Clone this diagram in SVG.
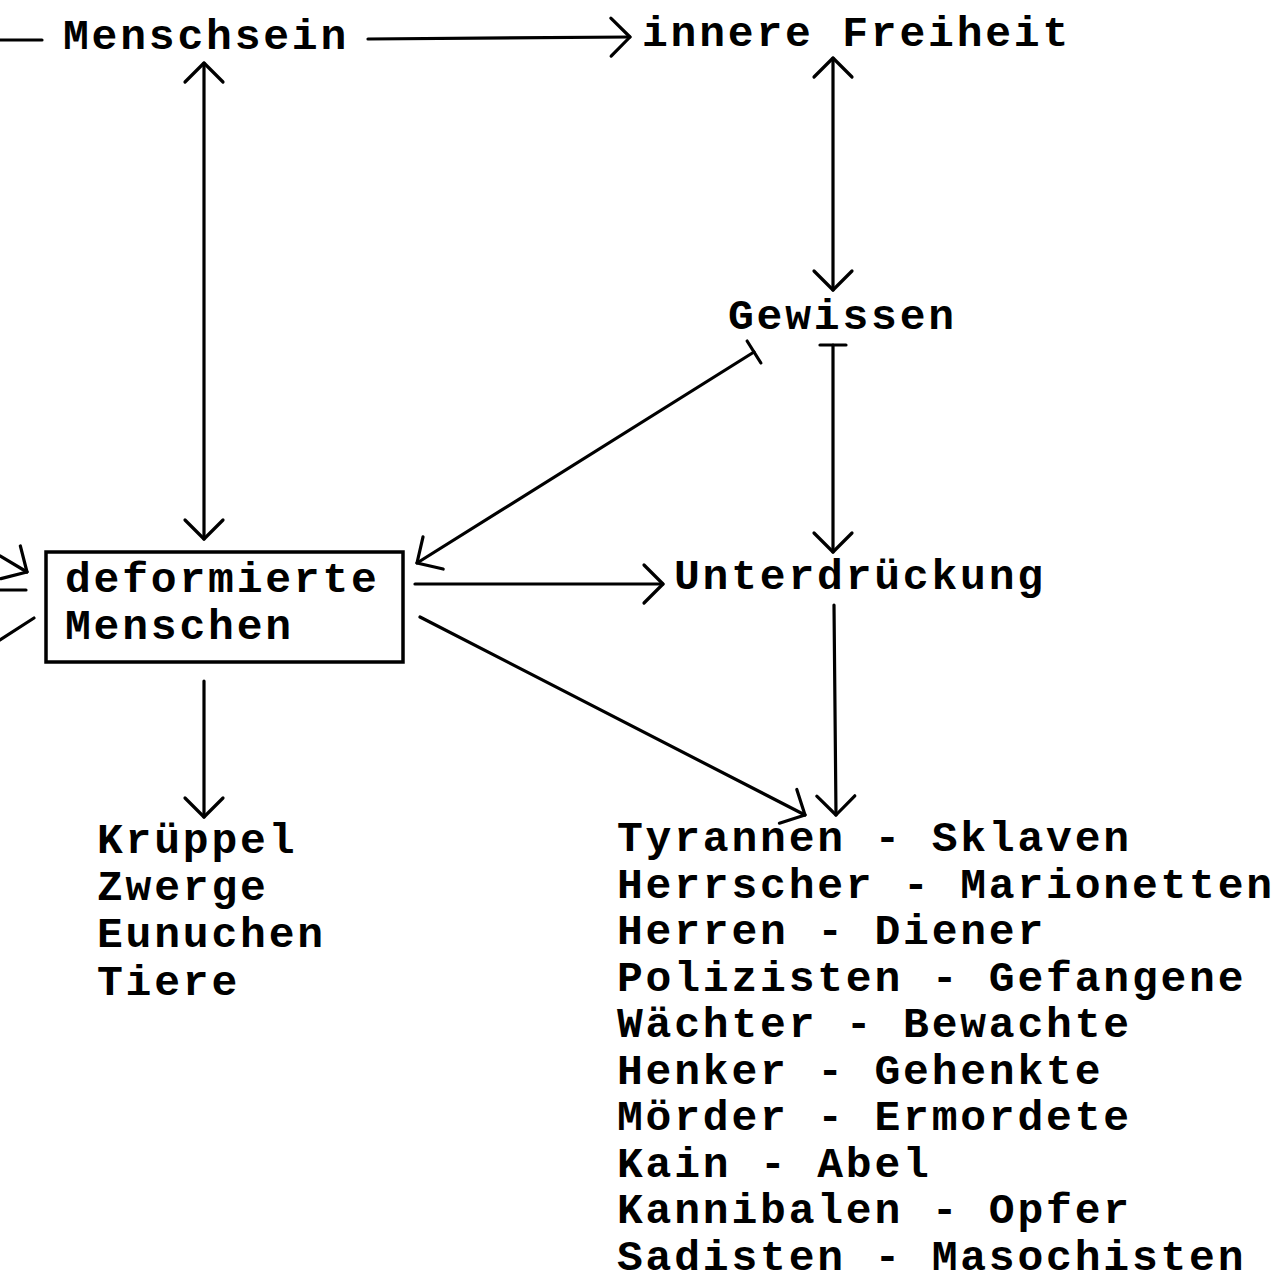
<svg xmlns="http://www.w3.org/2000/svg" width="1277" height="1281" viewBox="0 0 1277 1281">
  <style>
    text { font-family: "Liberation Mono", "DejaVu Sans Mono", monospace; font-size: 43px; font-weight: bold; letter-spacing: 2.8px; fill: #000; }
    .ln { fill: none; stroke: #000; stroke-width: 3.2; stroke-linecap: round; }
    .box { fill: #fff; stroke: #000; stroke-width: 3.5; }
  </style>
  <defs>
    <!-- open V arrowhead; reversed at the start for two-way links -->
    <marker id="v" markerUnits="userSpaceOnUse" viewBox="-26 -26 30 52" refX="0" refY="0" markerWidth="30" markerHeight="52" orient="auto-start-reverse" overflow="visible">
      <path d="M-19,-19 L0,0 L-19,19" fill="none" stroke="#000" stroke-width="3.2" stroke-linecap="round" stroke-linejoin="round"/>
    </marker>
    <!-- flat bar ending (inhibition) -->
    <marker id="bar" markerUnits="userSpaceOnUse" viewBox="-4 -16 8 32" refX="0" refY="0" markerWidth="8" markerHeight="32" orient="auto" overflow="visible">
      <path d="M0,-13 L0,13" fill="none" stroke="#000" stroke-width="3.2" stroke-linecap="round"/>
    </marker>
  </defs>

  <rect width="1277" height="1281" fill="#fff"/>

  <g id="connectors">
    <!-- lines coming in from the left edge -->
    <line class="ln" x1="0" y1="40" x2="42" y2="40"/>
    <line class="ln" x1="0" y1="556" x2="27" y2="572" marker-end="url(#v)"/>
    <line class="ln" x1="0" y1="590" x2="26" y2="590"/>
    <line class="ln" x1="0" y1="640" x2="34" y2="618"/>

    <!-- Menschsein -> innere Freiheit -->
    <line class="ln" x1="368" y1="39" x2="630" y2="37" marker-end="url(#v)"/>
    <!-- Menschsein <-> deformierte Menschen -->
    <line class="ln" x1="204" y1="63" x2="204" y2="539" marker-start="url(#v)" marker-end="url(#v)"/>
    <!-- innere Freiheit <-> Gewissen -->
    <line class="ln" x1="833" y1="58" x2="833" y2="290" marker-start="url(#v)" marker-end="url(#v)"/>
    <!-- Gewissen -| deformierte Menschen -->
    <line class="ln" x1="754" y1="352" x2="417" y2="563" marker-start="url(#bar)" marker-end="url(#v)"/>
    <!-- Gewissen -| Unterdrückung -->
    <line class="ln" x1="833" y1="345" x2="833" y2="552" marker-start="url(#bar)" marker-end="url(#v)"/>
    <!-- deformierte Menschen -> Unterdrückung -->
    <line class="ln" x1="415" y1="584" x2="663" y2="584" marker-end="url(#v)"/>
    <!-- Unterdrückung -> pairs list -->
    <line class="ln" x1="834" y1="605" x2="836" y2="815" marker-end="url(#v)"/>
    <!-- deformierte Menschen -> pairs list -->
    <line class="ln" x1="420" y1="617" x2="805" y2="815" marker-end="url(#v)"/>
    <!-- deformierte Menschen -> Krüppel list -->
    <line class="ln" x1="204" y1="681" x2="204" y2="817" marker-end="url(#v)"/>
  </g>

  <g id="menschsein">
    <text x="63" y="49">Menschsein</text>
  </g>

  <g id="innere-freiheit">
    <text x="642" y="46">innere Freiheit</text>
  </g>

  <g id="gewissen">
    <text x="728" y="329">Gewissen</text>
  </g>

  <g id="unterdrueckung">
    <text x="674" y="589">Unterdrückung</text>
  </g>

  <g id="deformierte-menschen">
    <rect class="box" x="46" y="552" width="357" height="110"/>
    <text x="65" y="592">deformierte</text>
    <text x="65" y="639">Menschen</text>
  </g>

  <g id="krueppel-list">
    <text x="97" y="853">Krüppel</text>
    <text x="97" y="900">Zwerge</text>
    <text x="97" y="947">Eunuchen</text>
    <text x="97" y="995">Tiere</text>
  </g>

  <g id="pairs-list">
    <text x="617" y="851">Tyrannen - Sklaven</text>
    <text x="617" y="898">Herrscher - Marionetten</text>
    <text x="617" y="944">Herren - Diener</text>
    <text x="617" y="991">Polizisten - Gefangene</text>
    <text x="617" y="1037">Wächter - Bewachte</text>
    <text x="617" y="1084">Henker - Gehenkte</text>
    <text x="617" y="1130">Mörder - Ermordete</text>
    <text x="617" y="1177">Kain - Abel</text>
    <text x="617" y="1223">Kannibalen - Opfer</text>
    <text x="617" y="1270">Sadisten - Masochisten</text>
  </g>
</svg>
